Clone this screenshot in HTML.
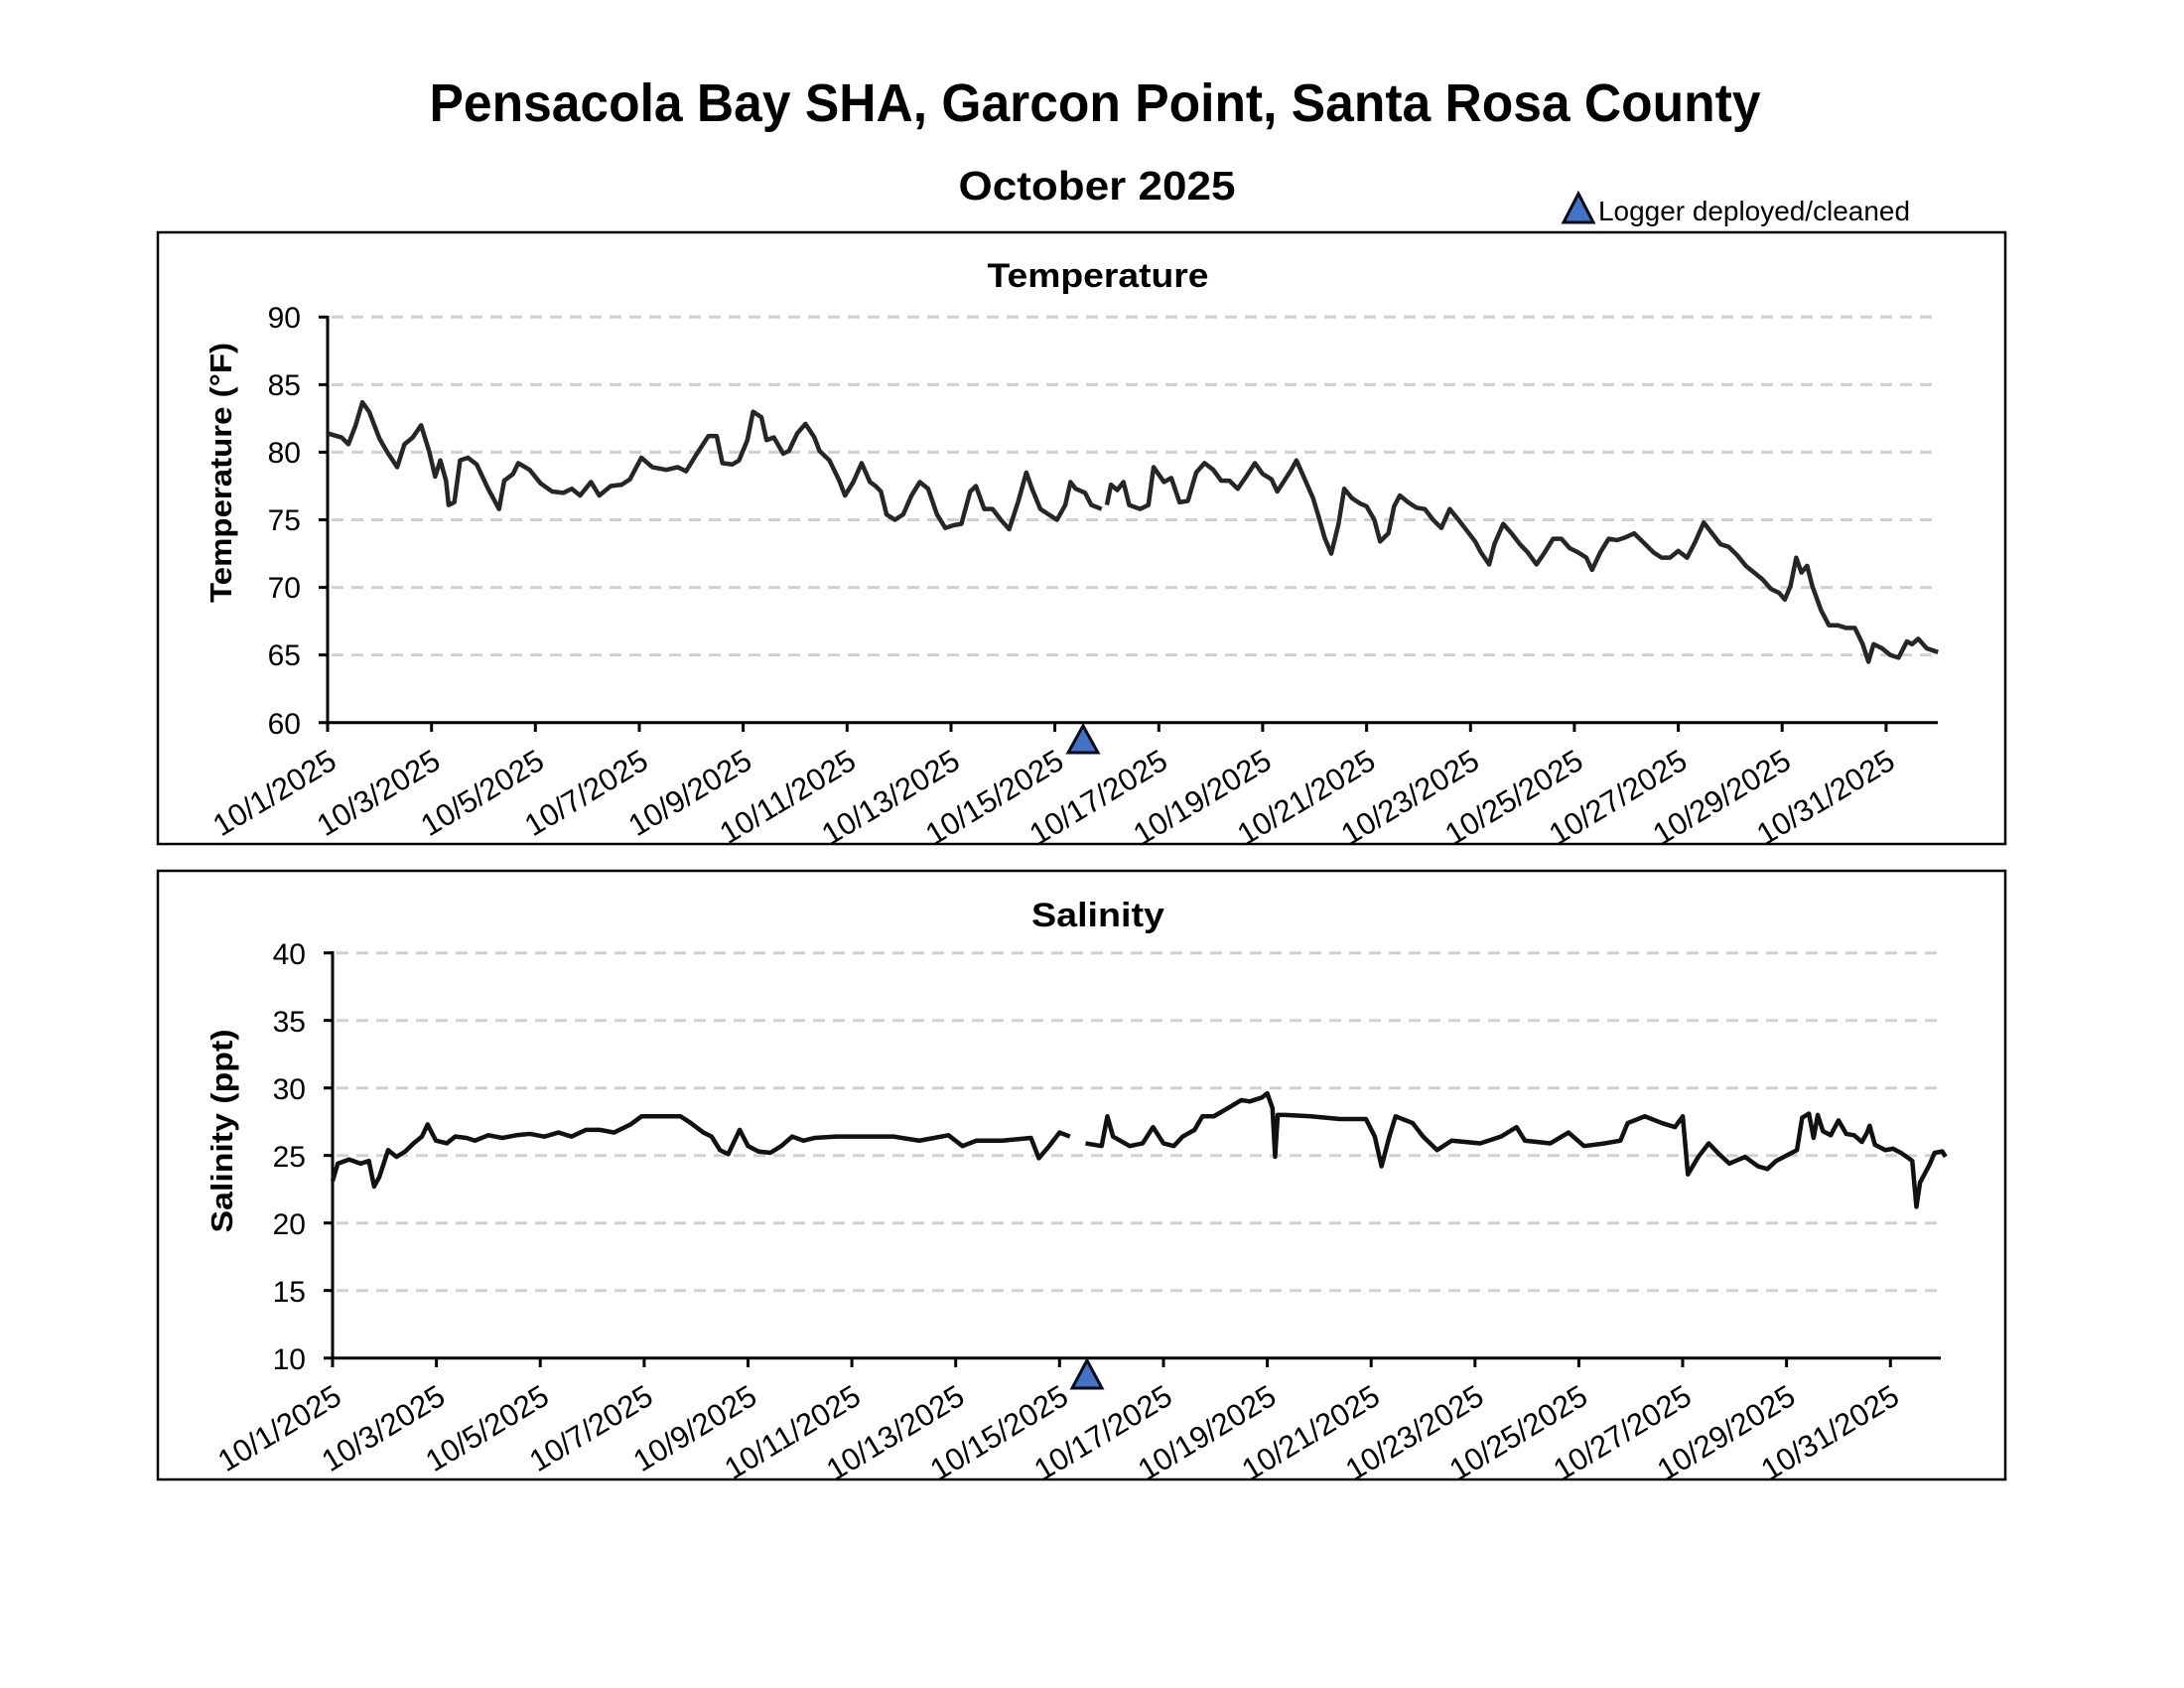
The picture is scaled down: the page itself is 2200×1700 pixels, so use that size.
<!DOCTYPE html>
<html><head><meta charset="utf-8"><style>html,body{margin:0;padding:0;background:#fff}svg{display:block}</style></head>
<body>
<svg width="2200" height="1700" viewBox="0 0 2200 1700" xmlns="http://www.w3.org/2000/svg" font-family="Liberation Sans, Arial, sans-serif">
<rect width="2200" height="1700" fill="#fff"/>
<text x="1103" y="122" text-anchor="middle" font-size="54" font-weight="bold" textLength="1341" lengthAdjust="spacingAndGlyphs">Pensacola Bay SHA, Garcon Point, Santa Rosa County</text>
<text x="1105" y="201" text-anchor="middle" font-size="41" font-weight="bold" textLength="279" lengthAdjust="spacingAndGlyphs">October 2025</text>
<polygon points="1590,195 1575,224 1605,224" fill="#4472c4" stroke="#0a0a1a" stroke-width="3"/>
<text x="1610" y="222" font-size="28" textLength="314" lengthAdjust="spacingAndGlyphs">Logger deployed/cleaned</text>

<!-- Panel 1 -->
<rect x="159" y="234" width="1861" height="616" fill="none" stroke="#000" stroke-width="2.5"/>
<text x="1106" y="289" text-anchor="middle" font-size="34" font-weight="bold" textLength="223" lengthAdjust="spacingAndGlyphs">Temperature</text>
<text transform="translate(233,476) rotate(-90)" text-anchor="middle" font-size="31" font-weight="bold" textLength="262" lengthAdjust="spacingAndGlyphs">Temperature (°F)</text>
<g stroke="#d0d0d0" stroke-width="3" stroke-dasharray="12 8">
<line x1="334" y1="319.3" x2="1952" y2="319.3"/><line x1="334" y1="387.4" x2="1952" y2="387.4"/><line x1="334" y1="455.4" x2="1952" y2="455.4"/><line x1="334" y1="523.5" x2="1952" y2="523.5"/><line x1="334" y1="591.6" x2="1952" y2="591.6"/><line x1="334" y1="659.6" x2="1952" y2="659.6"/>
</g>
<g stroke="#000" stroke-width="3">
<line x1="330" y1="318" x2="330" y2="729"/><line x1="321" y1="727.7" x2="1952" y2="727.7"/>
<line x1="321" y1="319.3" x2="330" y2="319.3"/><line x1="321" y1="387.4" x2="330" y2="387.4"/><line x1="321" y1="455.4" x2="330" y2="455.4"/><line x1="321" y1="523.5" x2="330" y2="523.5"/><line x1="321" y1="591.6" x2="330" y2="591.6"/><line x1="321" y1="659.6" x2="330" y2="659.6"/>
<line x1="330" y1="727" x2="330" y2="737"/><line x1="434.7" y1="727" x2="434.7" y2="737"/><line x1="539.3" y1="727" x2="539.3" y2="737"/><line x1="644" y1="727" x2="644" y2="737"/><line x1="748.6" y1="727" x2="748.6" y2="737"/><line x1="853.3" y1="727" x2="853.3" y2="737"/><line x1="958" y1="727" x2="958" y2="737"/><line x1="1062.6" y1="727" x2="1062.6" y2="737"/><line x1="1167.3" y1="727" x2="1167.3" y2="737"/><line x1="1271.9" y1="727" x2="1271.9" y2="737"/><line x1="1376.6" y1="727" x2="1376.6" y2="737"/><line x1="1481.3" y1="727" x2="1481.3" y2="737"/><line x1="1585.9" y1="727" x2="1585.9" y2="737"/><line x1="1690.6" y1="727" x2="1690.6" y2="737"/><line x1="1795.2" y1="727" x2="1795.2" y2="737"/><line x1="1899.9" y1="727" x2="1899.9" y2="737"/>
</g>
<g font-size="30" text-anchor="end">
<text x="303" y="330">90</text><text x="303" y="398">85</text><text x="303" y="466">80</text><text x="303" y="534">75</text><text x="303" y="602">70</text><text x="303" y="670">65</text><text x="303" y="739">60</text>
</g>
<g font-size="31" text-anchor="end">
<text transform="translate(341,772) rotate(-31)">10/1/2025</text>
<text transform="translate(445.7,772) rotate(-31)">10/3/2025</text>
<text transform="translate(550.3,772) rotate(-31)">10/5/2025</text>
<text transform="translate(655,772) rotate(-31)">10/7/2025</text>
<text transform="translate(759.6,772) rotate(-31)">10/9/2025</text>
<text transform="translate(864.3,772) rotate(-31)">10/11/2025</text>
<text transform="translate(969,772) rotate(-31)">10/13/2025</text>
<text transform="translate(1073.6,772) rotate(-31)">10/15/2025</text>
<text transform="translate(1178.3,772) rotate(-31)">10/17/2025</text>
<text transform="translate(1282.9,772) rotate(-31)">10/19/2025</text>
<text transform="translate(1387.6,772) rotate(-31)">10/21/2025</text>
<text transform="translate(1492.3,772) rotate(-31)">10/23/2025</text>
<text transform="translate(1596.9,772) rotate(-31)">10/25/2025</text>
<text transform="translate(1701.6,772) rotate(-31)">10/27/2025</text>
<text transform="translate(1806.2,772) rotate(-31)">10/29/2025</text>
<text transform="translate(1910.9,772) rotate(-31)">10/31/2025</text>
</g>
<g transform="translate(330,727.7) scale(52.33,-13.61)" fill="none" stroke="#262626" stroke-width="4.5" stroke-linejoin="round">
<polyline vector-effect="non-scaling-stroke" points="0,21.4 0.27,21.1 0.4,20.6 0.54,22 0.67,23.7 0.8,23 1,21 1.15,20 1.34,18.9 1.48,20.6 1.64,21.1 1.8,22 1.96,20 2.07,18.2 2.17,19.4 2.28,17.9 2.33,16.1 2.44,16.3 2.55,19.4 2.7,19.6 2.87,19.1 3.09,17.3 3.3,15.8 3.4,17.9 3.57,18.4 3.67,19.2 3.89,18.7 4.1,17.7 4.32,17.1 4.54,17 4.7,17.3 4.86,16.8 5.07,17.8 5.23,16.8 5.45,17.5 5.66,17.6 5.82,18 6.04,19.6 6.25,18.9 6.52,18.7 6.74,18.9 6.9,18.6 7.11,19.9 7.33,21.2 7.49,21.2 7.6,19.2 7.79,19.1 7.92,19.4 8.08,20.9 8.19,23 8.35,22.6 8.45,20.9 8.59,21.1 8.77,19.9 8.88,20.1 9.04,21.4 9.2,22.1 9.37,21.1 9.47,20.1 9.66,19.4 9.85,17.9 9.96,16.8 10.12,17.8 10.28,19.2 10.44,17.8 10.55,17.5 10.65,17.1 10.76,15.4 10.92,15 11.08,15.4 11.24,16.8 11.4,17.8 11.56,17.3 11.73,15.4 11.89,14.4 12.05,14.6 12.2,14.7 12.37,17.1 12.48,17.5 12.64,15.8 12.8,15.8 12.96,15 13.12,14.3 13.29,16.3 13.45,18.5 13.56,17.3 13.72,15.8 13.88,15.4 14.04,15 14.2,16.1 14.3,17.8 14.4,17.3 14.58,17 14.7,16.1 14.9,15.8"/>
<polyline vector-effect="non-scaling-stroke" points="15.0,16.1 15.08,17.6 15.2,17.2 15.32,17.8 15.43,16.1 15.64,15.8 15.8,16.1 15.9,18.9 16.1,17.8 16.24,18.1 16.4,16.3 16.56,16.4 16.72,18.5 16.88,19.2 17.05,18.7 17.2,17.9 17.36,17.9 17.52,17.3 17.7,18.3 17.85,19.2 18,18.4 18.17,18 18.28,17.1 18.4,17.8 18.55,18.7 18.65,19.4 18.8,18.1 18.97,16.6 19.08,15.2 19.19,13.7 19.32,12.5 19.46,14.7 19.57,17.3 19.72,16.6 19.88,16.2 20,16 20.15,15 20.26,13.4 20.42,14 20.53,16 20.64,16.8 20.8,16.3 20.96,15.9 21.12,15.8 21.28,15 21.44,14.4 21.6,15.8 21.77,15 21.93,14.2 22.09,13.4 22.2,12.6 22.36,11.7 22.46,13.2 22.63,14.7 22.79,14 22.95,13.2 23.1,12.6 23.27,11.7 23.43,12.6 23.59,13.6 23.75,13.6 23.91,12.9 24.07,12.6 24.23,12.2 24.34,11.3 24.5,12.6 24.66,13.6 24.82,13.5 24.98,13.7 25.15,14 25.31,13.4 25.52,12.6 25.68,12.2 25.84,12.2 26,12.7 26.17,12.2 26.33,13.4 26.49,14.8 26.65,14 26.81,13.2 26.97,13 27.13,12.4 27.3,11.6 27.46,11.1 27.62,10.6 27.78,9.9 27.94,9.6 28.05,9.1 28.16,10.1 28.27,12.2 28.37,11.1 28.48,11.6 28.58,10.1 28.75,8.3 28.9,7.2 29.07,7.2 29.23,7 29.4,7 29.55,5.8 29.66,4.5 29.76,5.8 29.92,5.5 30.08,5 30.24,4.8 30.4,6 30.5,5.8 30.62,6.2 30.78,5.5 31,5.2"/>
</g>
<polygon points="1091,731 1076,758 1106,758" fill="#4472c4" stroke="#0a0a1a" stroke-width="3"/>

<!-- Panel 2 -->
<rect x="159" y="877" width="1861" height="613" fill="none" stroke="#000" stroke-width="2.5"/>
<text x="1106" y="933" text-anchor="middle" font-size="34" font-weight="bold" textLength="134" lengthAdjust="spacingAndGlyphs">Salinity</text>
<text transform="translate(234,1139) rotate(-90)" text-anchor="middle" font-size="31" font-weight="bold" textLength="205" lengthAdjust="spacingAndGlyphs">Salinity (ppt)</text>
<g stroke="#d0d0d0" stroke-width="3" stroke-dasharray="12 8">
<line x1="339" y1="959.7" x2="1955" y2="959.7"/><line x1="339" y1="1027.7" x2="1955" y2="1027.7"/><line x1="339" y1="1095.7" x2="1955" y2="1095.7"/><line x1="339" y1="1163.7" x2="1955" y2="1163.7"/><line x1="339" y1="1231.7" x2="1955" y2="1231.7"/><line x1="339" y1="1299.7" x2="1955" y2="1299.7"/>
</g>
<g stroke="#000" stroke-width="3">
<line x1="335" y1="958" x2="335" y2="1369"/><line x1="326" y1="1367.7" x2="1955" y2="1367.7"/>
<line x1="326" y1="959.7" x2="335" y2="959.7"/><line x1="326" y1="1027.7" x2="335" y2="1027.7"/><line x1="326" y1="1095.7" x2="335" y2="1095.7"/><line x1="326" y1="1163.7" x2="335" y2="1163.7"/><line x1="326" y1="1231.7" x2="335" y2="1231.7"/><line x1="326" y1="1299.7" x2="335" y2="1299.7"/>
<line x1="335" y1="1367" x2="335" y2="1377"/><line x1="439.6" y1="1367" x2="439.6" y2="1377"/><line x1="544.2" y1="1367" x2="544.2" y2="1377"/><line x1="648.9" y1="1367" x2="648.9" y2="1377"/><line x1="753.5" y1="1367" x2="753.5" y2="1377"/><line x1="858.1" y1="1367" x2="858.1" y2="1377"/><line x1="962.7" y1="1367" x2="962.7" y2="1377"/><line x1="1067.3" y1="1367" x2="1067.3" y2="1377"/><line x1="1172" y1="1367" x2="1172" y2="1377"/><line x1="1276.6" y1="1367" x2="1276.6" y2="1377"/><line x1="1381.2" y1="1367" x2="1381.2" y2="1377"/><line x1="1485.8" y1="1367" x2="1485.8" y2="1377"/><line x1="1590.4" y1="1367" x2="1590.4" y2="1377"/><line x1="1695" y1="1367" x2="1695" y2="1377"/><line x1="1799.6" y1="1367" x2="1799.6" y2="1377"/><line x1="1904.3" y1="1367" x2="1904.3" y2="1377"/>
</g>
<g font-size="30" text-anchor="end">
<text x="308" y="971">40</text><text x="308" y="1039">35</text><text x="308" y="1107">30</text><text x="308" y="1175">25</text><text x="308" y="1243">20</text><text x="308" y="1311">15</text><text x="308" y="1379">10</text>
</g>
<g font-size="31" text-anchor="end">
<text transform="translate(346,1412) rotate(-31)">10/1/2025</text>
<text transform="translate(450.6,1412) rotate(-31)">10/3/2025</text>
<text transform="translate(555.2,1412) rotate(-31)">10/5/2025</text>
<text transform="translate(659.9,1412) rotate(-31)">10/7/2025</text>
<text transform="translate(764.5,1412) rotate(-31)">10/9/2025</text>
<text transform="translate(869.1,1412) rotate(-31)">10/11/2025</text>
<text transform="translate(973.7,1412) rotate(-31)">10/13/2025</text>
<text transform="translate(1078.3,1412) rotate(-31)">10/15/2025</text>
<text transform="translate(1183,1412) rotate(-31)">10/17/2025</text>
<text transform="translate(1287.6,1412) rotate(-31)">10/19/2025</text>
<text transform="translate(1392.2,1412) rotate(-31)">10/21/2025</text>
<text transform="translate(1496.8,1412) rotate(-31)">10/23/2025</text>
<text transform="translate(1601.4,1412) rotate(-31)">10/25/2025</text>
<text transform="translate(1706,1412) rotate(-31)">10/27/2025</text>
<text transform="translate(1810.6,1412) rotate(-31)">10/29/2025</text>
<text transform="translate(1915.3,1412) rotate(-31)">10/31/2025</text>
</g>
<g transform="translate(335,1367.7) scale(52.31,-13.6)" fill="none" stroke="#111" stroke-width="4.5" stroke-linejoin="round">
<polyline vector-effect="non-scaling-stroke" points="0,13.1 0.1,14.4 0.32,14.7 0.54,14.4 0.7,14.6 0.8,12.7 0.9,13.4 1.07,15.4 1.23,14.9 1.4,15.3 1.56,15.9 1.72,16.4 1.83,17.3 1.99,16.1 2.2,15.9 2.36,16.4 2.58,16.3 2.74,16.1 3,16.5 3.27,16.3 3.54,16.5 3.8,16.6 4.08,16.4 4.35,16.7 4.6,16.4 4.88,16.9 5.15,16.9 5.42,16.7 5.74,17.3 5.95,17.9 6.2,17.9 6.5,17.9 6.7,17.9 6.9,17.4 7.14,16.7 7.3,16.4 7.46,15.4 7.62,15.1 7.84,16.9 8,15.7 8.2,15.3 8.43,15.2 8.64,15.7 8.85,16.4 9.07,16.1 9.28,16.3 9.7,16.4 10.25,16.4 10.8,16.4 11.3,16.1 11.86,16.5 12.13,15.7 12.4,16.1 12.9,16.1 13.45,16.3 13.6,14.8 13.8,15.7 14,16.7 14.2,16.4"/>
<polyline vector-effect="non-scaling-stroke" points="14.5,15.9 14.81,15.7 14.92,17.9 15.03,16.4 15.35,15.7 15.6,15.9 15.8,17.1 16,15.9 16.2,15.7 16.37,16.4 16.6,16.9 16.75,17.9 16.97,17.9 17.24,18.5 17.5,19.1 17.66,19 17.9,19.3 18,19.6 18.1,18.5 18.15,14.9 18.2,18 18.35,18 18.84,17.9 19.4,17.7 19.9,17.7 20.07,16.4 20.2,14.2 20.35,16.4 20.47,17.9 20.8,17.4 21,16.4 21.27,15.4 21.55,16.1 22.1,15.9 22.5,16.4 22.8,17.1 22.96,16.1 23.45,15.9 23.8,16.7 24.1,15.7 24.5,15.9 24.8,16.1 24.94,17.4 25.27,17.9 25.6,17.4 25.85,17.1 26,17.9 26.1,13.6 26.3,14.9 26.5,15.9 26.7,15.1 26.9,14.4 27.2,14.9 27.45,14.2 27.63,14 27.8,14.6 28.1,15.2 28.2,15.4 28.3,17.8 28.43,18.1 28.52,16.3 28.6,18 28.7,16.8 28.85,16.5 29,17.6 29.15,16.6 29.3,16.5 29.45,16 29.55,16.7 29.6,17.2 29.7,15.8 29.9,15.4 30.05,15.5 30.2,15.2 30.35,14.8 30.42,14.6 30.5,11.2 30.57,13 30.75,14.3 30.85,15.2 31,15.3 31.06,14.9"/>
</g>
<polygon points="1095,1370 1080,1398 1110,1398" fill="#4472c4" stroke="#0a0a1a" stroke-width="3"/>
</svg>
</body></html>
